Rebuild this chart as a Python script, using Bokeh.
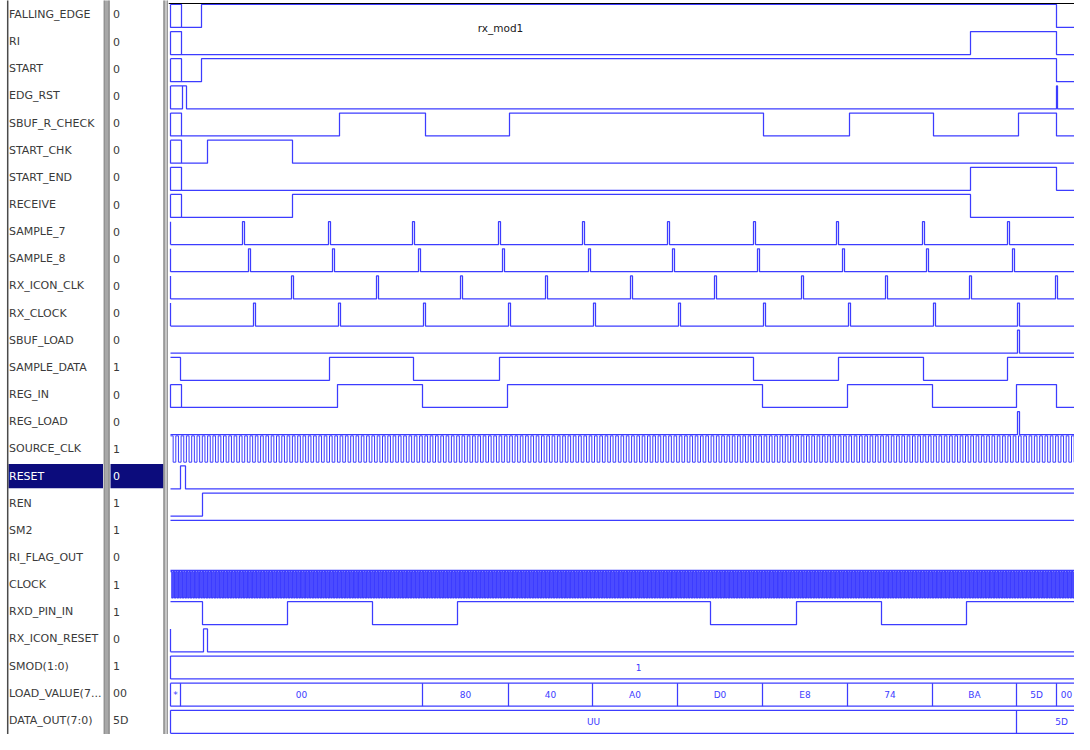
import numpy as np
from bokeh.plotting import figure
from bokeh.layouts import row
from bokeh.models import Range1d, Span, Label
from bokeh.embed import file_html
from bokeh.resources import INLINE
from bokeh.core.properties import value

# ---------------- data ----------------
NAMES = ["FALLING_EDGE", "RI", "START", "EDG_RST", "SBUF_R_CHECK", "START_CHK",
         "START_END", "RECEIVE", "SAMPLE_7", "SAMPLE_8", "RX_ICON_CLK", "RX_CLOCK",
         "SBUF_LOAD", "SAMPLE_DATA", "REG_IN", "REG_LOAD", "SOURCE_CLK", "RESET",
         "REN", "SM2", "RI_FLAG_OUT", "CLOCK", "RXD_PIN_IN", "RX_ICON_RESET",
         "SMOD(1:0)", "LOAD_VALUE(7...", "DATA_OUT(7:0)"]
VALUES = ["0", "0", "0", "0", "0", "0", "0", "0", "0", "0", "0", "0", "0",
          "1", "0", "0", "1", "0", "1", "1", "0", "1", "1", "0", "1", "00", "5D"]
SELECTED = "RESET"

END_T = 936          # end of simulated window (time units)
VIEW_END = 904       # last visible time in the viewer
PULSE_W = 2          # width of the one-cycle strobes

FALLING_EDGE_T = [0, 11, 31, 886]
FALLING_EDGE_V = ["X", 0, 1, 0]
RI_T = [0, 11, 800, 886]
RI_V = ["X", 0, 1, 0]
START_T = [0, 11, 31, 886]
START_V = ["X", 0, 1, 0]
EDG_RST_T = [0, 12, 16, 886, 887]
EDG_RST_V = ["X", 1, 0, 1, 0]
SBUF_R_CHECK_T = [0, 11, 169, 255, 339, 593, 679, 763, 848, 886]
SBUF_R_CHECK_V = ["X", 0, 1, 0, 1, 0, 1, 0, 1, 0]
START_CHK_T = [0, 11, 37, 122]
START_CHK_V = ["X", 0, 1, 0]
START_END_T = [0, 11, 800, 886]
START_END_V = ["X", 0, 1, 0]
RECEIVE_T = [0, 11, 122, 800]
RECEIVE_V = ["X", 0, 1, 0]
SAMPLE_7_PULSES = [72, 158, 242, 328, 412, 497, 583, 666, 752, 837]
SAMPLE_8_PULSES = [78, 162, 248, 332, 418, 502, 587, 672, 756, 842]
RX_ICON_CLK_PULSES = [121, 206, 290, 375, 460, 544, 631, 715, 799, 885]
RX_CLOCK_PULSES = [83, 168, 253, 338, 423, 508, 593, 678, 763, 847]
SBUF_LOAD_PULSES = [847]
SAMPLE_DATA_T = [0, 10, 159, 243, 329, 583, 668, 753, 837]
SAMPLE_DATA_V = [1, 0, 1, 0, 1, 0, 1, 0, 1]
REG_IN_T = [0, 11, 167, 252, 337, 592, 677, 762, 846, 886]
REG_IN_V = ["X", 0, 1, 0, 1, 0, 1, 0, 1, 0]
REG_LOAD_PULSES = [847]
SOURCE_CLK_PERIOD = 5.3
RESET_T = [0, 10, 15]
RESET_V = [0, 1, 0]
REN_T = [0, 32]
REN_V = [0, 1]
SM2_T = [0]
SM2_V = [1]
RI_FLAG_OUT_T = [0]
RI_FLAG_OUT_V = [0]
CLOCK_PERIOD = 2.65
RXD_PIN_IN_T = [0, 32, 117, 202, 287, 540, 626, 711, 796]
RXD_PIN_IN_V = [1, 0, 1, 0, 1, 0, 1, 0, 1]
RX_ICON_RESET_T = [0, 33, 37]
RX_ICON_RESET_V = [0, 1, 0]
SMOD_T = [0]
SMOD_L = ["1"]
LOAD_VALUE_T = [0, 10, 252, 338, 422, 507, 592, 677, 762, 846, 886]
LOAD_VALUE_L = ["*", "00", "80", "40", "A0", "D0", "E8", "74", "BA", "5D", "00"]
DATA_OUT_T = [0, 846]
DATA_OUT_L = ["UU", "5D"]
LABEL_T = 330
LABEL_TEXT = "rx_mod1"

# ---------------- style ----------------
WAVE = "#3c3cff"
TXT = "#3a3a3a"
NAVY = "#0c0c7c"
FONT = value("DejaVu Sans")
HI, LO = 0.13, 0.975
CLK_HI, CLK_LO = 0.02, 0.99
H = 734
Y0, Y1 = 27.02, -0.015


def pulses(ts, w=PULSE_W):
    T, V = [0], [0]
    for t in ts:
        T += [t, t + w]
        V += [1, 0]
    return T, V


def step_paths(times, vals, r, end=END_T, edge0=False):
    hi, lo = r + HI, r + LO
    xs, ys = [], []
    cx = cy = None
    for k, (t, v) in enumerate(zip(times, vals)):
        tn = times[k + 1] if k + 1 < len(times) else end
        if v == "X":
            if cx:
                xs.append(cx); ys.append(cy); cx = cy = None
            xs.append([t, tn, tn, t, t]); ys.append([hi, hi, lo, lo, hi])
            continue
        y = hi if v == 1 else lo
        if cx is None:
            cx, cy = [t], [y]
        else:
            cx.append(t); cy.append(y)
        cx.append(tn); cy.append(y)
    if cx:
        xs.append(cx); ys.append(cy)
    if edge0:
        xs.append([times[0], times[0]]); ys.append([hi, lo])
    return xs, ys


def clock_path(period, r, end=END_T):
    hi, lo = r + CLK_HI, r + CLK_LO
    edges = np.arange(0, end + period / 2, period / 2)
    xs, ys = [], []
    lvl = hi
    for k in range(len(edges) - 1):
        xs += [edges[k], edges[k + 1]]
        ys += [lvl, lvl]
        lvl = lo if lvl == hi else hi
    return [xs], [ys]


def base_fig(w, xr):
    p = figure(width=w, height=H, x_range=xr, y_range=Range1d(Y0, Y1),
               output_backend="svg", toolbar_location=None,
               x_axis_type=None, y_axis_type=None, min_border=0,
               background_fill_color="white", border_fill_color="white")
    p.outline_line_color = None
    p.min_border_left = p.min_border_right = p.min_border_top = p.min_border_bottom = 0
    return p


rows = list(range(len(NAMES)))
sel = NAMES.index(SELECTED)
txt_colors = ["white" if i == sel else TXT for i in rows]

# ---------------- names panel ----------------
pn = base_fig(103, Range1d(0, 103))
pn.quad(left=[8], right=[103], top=[sel + 0.06], bottom=[sel + 0.95], fill_color=NAVY, line_color=None)
pn.segment(x0=[7.2], x1=[7.2], y0=[-1], y1=[28], line_color="#4a4a4a", line_width=1.5)
pn.text(x=[8.5] * len(rows), y=[r + 0.5 for r in rows], text=NAMES, text_color=txt_colors,
        text_font=FONT, text_font_size="11px", text_baseline="middle", text_align="left")

# ---------------- values panel ----------------
pv = base_fig(65, Range1d(0, 65))
pv.quad(left=[0], right=[6], top=[-1], bottom=[28], fill_color="#a8a8a8", line_color=None)
pv.segment(x0=[0.5, 5.6], x1=[0.5, 5.6], y0=[-1, -1], y1=[28, 28], line_color="#7c7c7c", line_width=1)
pv.quad(left=[7], right=[60], top=[sel + 0.06], bottom=[sel + 0.95], fill_color=NAVY, line_color=None)
pv.quad(left=[60], right=[65], top=[-1], bottom=[28], fill_color="#c6c6c6", line_color=None)
pv.segment(x0=[60.5, 64.5], x1=[60.5, 64.5], y0=[-1, -1], y1=[28, 28], line_color="#6e6e6e", line_width=1)
pv.text(x=[9.5] * len(rows), y=[r + 0.5 for r in rows], text=VALUES, text_color=txt_colors,
        text_font=FONT, text_font_size="11px", text_baseline="middle", text_align="left")

# ---------------- waveform panel ----------------
pw = base_fig(906, Range1d(-2, VIEW_END))
pw.add_layout(Span(location=0.096, dimension="width", line_color="black", line_width=1))

bit_signals = [
    (FALLING_EDGE_T, FALLING_EDGE_V, False), (RI_T, RI_V, False), (START_T, START_V, False),
    (EDG_RST_T, EDG_RST_V, False), (SBUF_R_CHECK_T, SBUF_R_CHECK_V, False),
    (START_CHK_T, START_CHK_V, False), (START_END_T, START_END_V, False),
    (RECEIVE_T, RECEIVE_V, False),
    pulses(SAMPLE_7_PULSES) + (True,), pulses(SAMPLE_8_PULSES) + (True,),
    pulses(RX_ICON_CLK_PULSES) + (True,), pulses(RX_CLOCK_PULSES) + (True,),
    pulses(SBUF_LOAD_PULSES) + (False,),
    (SAMPLE_DATA_T, SAMPLE_DATA_V, False), (REG_IN_T, REG_IN_V, False),
    pulses(REG_LOAD_PULSES) + (False,),
    None,
    (RESET_T, RESET_V, False), (REN_T, REN_V, False), (SM2_T, SM2_V, False),
    (RI_FLAG_OUT_T, RI_FLAG_OUT_V, False),
    None,
    (RXD_PIN_IN_T, RXD_PIN_IN_V, False), (RX_ICON_RESET_T, RX_ICON_RESET_V, True),
]

XS, YS = [], []
for r, sig in enumerate(bit_signals):
    if sig is None:
        continue
    t, v, e0 = sig
    xs, ys = step_paths(t, v, r, edge0=e0)
    XS += xs; YS += ys
pw.multi_line(xs=XS, ys=YS, line_color=WAVE, line_width=1.25)

for per, r, lw in ((SOURCE_CLK_PERIOD, NAMES.index("SOURCE_CLK"), 1.0),
                   (CLOCK_PERIOD, NAMES.index("CLOCK"), 1.25)):
    cxs, cys = clock_path(per, r)
    pw.multi_line(xs=cxs, ys=cys, line_color=WAVE, line_width=lw)

# buses
for times, labels, name in ((SMOD_T, SMOD_L, "SMOD(1:0)"), (LOAD_VALUE_T, LOAD_VALUE_L, "LOAD_VALUE(7..."),
                            (DATA_OUT_T, DATA_OUT_L, "DATA_OUT(7:0)")):
    r = NAMES.index(name)
    hi, lo = r + HI, r + LO
    bx = [[0, END_T], [0, END_T]] + [[t, t] for t in times]
    by = [[hi, hi], [lo, lo]] + [[hi, lo] for _ in times]
    pw.multi_line(xs=bx, ys=by, line_color=WAVE, line_width=1.25)
    ends = times[1:] + [END_T]
    mids = [min((a + b) / 2, VIEW_END - 8) for a, b in zip(times, ends)]
    pw.text(x=mids, y=[r + 0.56] * len(mids), text=labels, text_color=WAVE,
            text_font=FONT, text_font_size="9px", text_align="center", text_baseline="middle")

pw.add_layout(Label(x=LABEL_T, y=0.98, text=LABEL_TEXT, text_align="center", text_baseline="middle",
                    text_font="DejaVu Sans", text_font_size="10.5px", text_color="#202020"))

layout = row(pn, pv, pw, spacing=0)
open("out.html", "w").write(file_html(layout, INLINE))
